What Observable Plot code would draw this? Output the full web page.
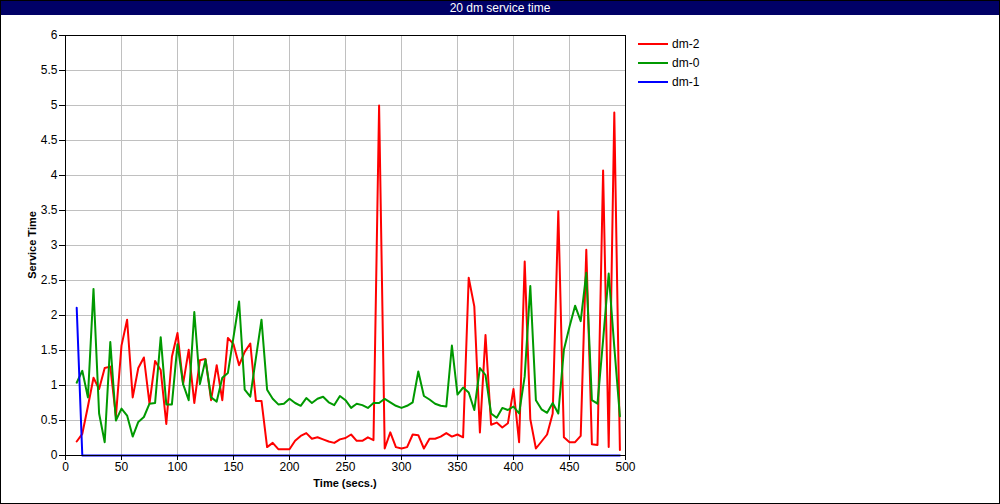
<!DOCTYPE html>
<html>
<head>
<meta charset="utf-8">
<script src="https://cdn.jsdelivr.net/npm/d3@7"></script>
<script src="https://cdn.jsdelivr.net/npm/@observablehq/plot@0.6"></script>
<style>
  html, body { margin: 0; padding: 0; background: #fff; }
  body { width: 1000px; height: 504px; position: relative; overflow: hidden; font-family: "Liberation Sans", Arial, sans-serif; }
  #title { position: absolute; left: 0; top: 0; width: 1000px; height: 15px; background: #000066; color: #fff; font-size: 12px; line-height: 16px; text-align: center; }
  #chart { position: absolute; left: 0; top: 15px; }
  #border { position: absolute; left: 0; top: 0; width: 1000px; height: 504px; box-sizing: border-box; border: 1px solid #000; pointer-events: none; }
  .axlabel { position: absolute; font-size: 11px; font-weight: bold; color: #000; white-space: nowrap; }
  #xlabel { left: 345px; top: 483px; transform: translate(-50%, -50%); }
  #ylabel { left: 32px; top: 245px; transform: translate(-50%, -50%) rotate(-90deg); }
  .leg { position: absolute; left: 638px; height: 14px; }
  .leg .sw { position: absolute; left: 0; top: 6px; width: 30px; height: 2px; }
  .leg .tx { position: absolute; left: 34px; top: 0; font-size: 12px; line-height: 14px; color: #000; white-space: nowrap; }
</style>
</head>
<body>
<div id="title"></div>
<div id="chart"></div>
<div id="xlabel" class="axlabel"></div>
<div id="ylabel" class="axlabel"></div>
<div id="legend"></div>
<div id="border"></div>
<script>
const titleText = "20 dm service time";
const xLabel = "Time (secs.)";
const yLabel = "Service Time";

const seriesNames = ["dm-2", "dm-0", "dm-1"];
const seriesColors = ["#ff0000", "#009900", "#0000ff"];

const xTicks = [0, 50, 100, 150, 200, 250, 300, 350, 400, 450, 500];
const yTicks = [0, 0.5, 1, 1.5, 2, 2.5, 3, 3.5, 4, 4.5, 5, 5.5, 6];

const times = [
  10, 15, 20, 25, 30, 35, 40, 45, 50, 55,
  60, 65, 70, 75, 80, 85, 90, 95, 100, 105,
  110, 115, 120, 125, 130, 135, 140, 145, 150, 155,
  160, 165, 170, 175, 180, 185, 190, 195, 200, 205,
  210, 215, 220, 225, 230, 235, 240, 245, 250, 255,
  260, 265, 270, 275, 280, 285, 290, 295, 300, 305,
  310, 315, 320, 325, 330, 335, 340, 345, 350, 355,
  360, 365, 370, 375, 380, 385, 390, 395, 400, 405,
  410, 415, 420, 425, 430, 435, 440, 445, 450, 455,
  460, 465, 470, 475, 480, 485, 490, 495
];

const dm2 = [
  0.20, 0.31, 0.70, 1.11, 0.95, 1.25, 1.27, 0.56, 1.57, 1.94,
  0.83, 1.25, 1.40, 0.74, 1.35, 1.22, 0.45, 1.41, 1.75, 1.02,
  1.51, 0.75, 1.36, 1.38, 0.79, 1.29, 0.79, 1.68, 1.59, 1.29,
  1.48, 1.60, 0.78, 0.78, 0.12, 0.18, 0.09, 0.09, 0.09, 0.21,
  0.28, 0.32, 0.24, 0.26, 0.23, 0.20, 0.18, 0.23, 0.25, 0.30,
  0.21, 0.21, 0.26, 0.22, 5.00, 0.10, 0.33, 0.12, 0.10, 0.12,
  0.30, 0.29, 0.10, 0.24, 0.24, 0.27, 0.32, 0.27, 0.30, 0.26,
  2.54, 2.13, 0.33, 1.72, 0.44, 0.47, 0.40, 0.46, 0.95, 0.19,
  2.77, 0.52, 0.10, 0.20, 0.30, 0.60, 3.49, 0.26, 0.19, 0.19,
  0.28, 2.94, 0.16, 0.15, 4.07, 0.12, 4.90, 0.08
];

const dm0 = [
  1.04, 1.21, 0.83, 2.38, 0.60, 0.19, 1.62, 0.50, 0.67, 0.57,
  0.27, 0.48, 0.55, 0.74, 0.75, 1.69, 0.73, 0.73, 1.59, 1.02,
  0.79, 2.05, 1.02, 1.37, 0.83, 0.77, 1.11, 1.18, 1.69, 2.20,
  0.94, 0.84, 1.39, 1.94, 0.94, 0.81, 0.73, 0.74, 0.81, 0.75,
  0.71, 0.82, 0.75, 0.81, 0.84, 0.76, 0.72, 0.85, 0.79, 0.68,
  0.74, 0.72, 0.68, 0.75, 0.75, 0.81, 0.76, 0.71, 0.68, 0.71,
  0.76, 1.20, 0.85, 0.80, 0.74, 0.71, 0.70, 1.57, 0.87, 0.97,
  0.90, 0.65, 1.25, 1.15, 0.60, 0.54, 0.68, 0.65, 0.70, 0.60,
  1.13, 2.42, 0.79, 0.66, 0.61, 0.75, 0.60, 1.51, 1.84, 2.14,
  1.92, 2.61, 0.79, 0.74, 1.65, 2.60, 1.55, 0.56
];

const dm1 = [
  2.11, 0, 0, 0, 0, 0, 0, 0, 0, 0,
  0, 0, 0, 0, 0, 0, 0, 0, 0, 0,
  0, 0, 0, 0, 0, 0, 0, 0, 0, 0,
  0, 0, 0, 0, 0, 0, 0, 0, 0, 0,
  0, 0, 0, 0, 0, 0, 0, 0, 0, 0,
  0, 0, 0, 0, 0, 0, 0, 0, 0, 0,
  0, 0, 0, 0, 0, 0, 0, 0, 0, 0,
  0, 0, 0, 0, 0, 0, 0, 0, 0, 0,
  0, 0, 0, 0, 0, 0, 0, 0, 0, 0,
  0, 0, 0, 0, 0, 0, 0, 0
];

const seriesValues = [dm2, dm0, dm1];
const data = [];
seriesNames.forEach((name, si) => {
  times.forEach((t, i) => data.push({ series: name, t, v: seriesValues[si][i] }));
});

document.getElementById("title").textContent = titleText;
document.getElementById("xlabel").textContent = xLabel;
document.getElementById("ylabel").textContent = yLabel;

const legend = document.getElementById("legend");
seriesNames.forEach((name, i) => {
  const item = document.createElement("div");
  item.className = "leg";
  item.style.top = (37 + i * 19) + "px";
  const sw = document.createElement("div");
  sw.className = "sw";
  sw.style.background = seriesColors[i];
  const tx = document.createElement("div");
  tx.className = "tx";
  tx.textContent = name;
  item.appendChild(sw);
  item.appendChild(tx);
  legend.appendChild(item);
});

const chart = Plot.plot({
  width: 1000,
  height: 489,
  marginLeft: 65,
  marginRight: 375,
  marginTop: 20,
  marginBottom: 49,
  style: { fontFamily: "'Liberation Sans', Arial, sans-serif", fontSize: "12px", color: "#000", background: "transparent", overflow: "visible" },
  x: { domain: [0, 500] },
  y: { domain: [0, 6] },
  color: { domain: seriesNames, range: seriesColors },
  marks: [
    Plot.gridX(xTicks, { stroke: "#c0c0c0", strokeOpacity: 1, strokeWidth: 1 }),
    Plot.gridY(yTicks, { stroke: "#c0c0c0", strokeOpacity: 1, strokeWidth: 1 }),
    Plot.line(data, { x: "t", y: "v", z: "series", stroke: "series", strokeWidth: 2 }),
    Plot.frame({ stroke: "#000", strokeWidth: 1 }),
    Plot.axisX({ ticks: xTicks, tickSize: 5, tickPadding: 2, label: null, tickFormat: d => String(d) }),
    Plot.axisY({ ticks: yTicks, tickSize: 6, tickPadding: 2, label: null, tickFormat: d => String(d) })
  ]
});
document.getElementById("chart").appendChild(chart);
</script>
</body>
</html>
